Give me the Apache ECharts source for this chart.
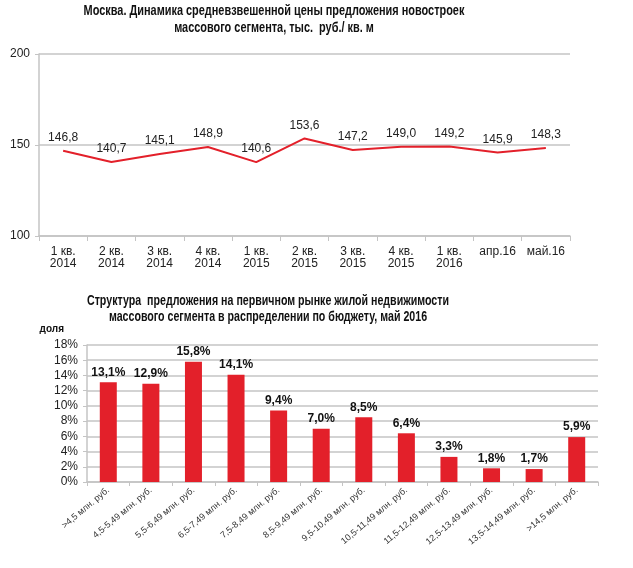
<!DOCTYPE html>
<html><head><meta charset="utf-8">
<script src="https://cdn.jsdelivr.net/npm/echarts@6/dist/echarts.min.js"></script>
<style>html,body{margin:0;padding:0;background:#fff}#c{width:633px;height:568px}</style>
</head><body><div id="c"></div>
<script>
const lineCategories = ['1 кв.\n2014','2 кв.\n2014','3 кв.\n2014','4 кв.\n2014','1 кв.\n2015','2 кв.\n2015','3 кв.\n2015','4 кв.\n2015','1 кв.\n2016','апр.16','май.16'];
const lineValues = [146.8,140.7,145.1,148.9,140.6,153.6,147.2,149.0,149.2,145.9,148.3];
const barCategories = ['>4,5 млн. руб.','4,5-5,49 млн. руб.','5,5-6,49 млн. руб.','6,5-7,49 млн. руб.','7,5-8,49 млн. руб.','8,5-9,49 млн. руб.','9,5-10,49 млн. руб.','10,5-11,49 млн. руб.','11,5-12,49 млн. руб.','12,5-13,49 млн. руб.','13,5-14,49 млн. руб.','>14,5 млн. руб.'];
const barValues = [13.1,12.9,15.8,14.1,9.4,7.0,8.5,6.4,3.3,1.8,1.7,5.9];
const title1 = 'Москва. Динамика средневзвешенной цены предложения новостроек\nмассового сегмента, тыс.  руб./ кв. м';
const title2 = 'Структура  предложения на первичном рынке жилой недвижимости\nмассового сегмента в распределении по бюджету, май 2016';

const FONT = '"Liberation Sans", Arial, sans-serif';
const RED = '#e3202a';
const GRID = '#c4c4c4';
const fmt = v => v.toFixed(1).replace('.', ',');

const chart = echarts.init(document.getElementById('c'), null, {renderer:'canvas'});
chart.setOption({
  animation:false,
  backgroundColor:'#fff',
  textStyle:{fontFamily:FONT},
  graphic:[
    {type:'text', x:274, y:3, scaleX:0.78,
     style:{text:title1, align:'center', verticalAlign:'top', fill:'#111',
            font:'bold 14px "Liberation Sans", Arial, sans-serif', lineHeight:17}},
    {type:'text', x:268, y:293, scaleX:0.76,
     style:{text:title2, align:'center', verticalAlign:'top', fill:'#111',
            font:'bold 14px "Liberation Sans", Arial, sans-serif', lineHeight:16}}
  ],
  grid:[
    {left:39, right:63, top:54, height:182},
    {left:87, right:35, top:345, height:137}
  ],
  xAxis:[
    {type:'category', gridIndex:0, data:lineCategories, boundaryGap:true,
     axisLine:{lineStyle:{color:GRID, width:1.5}},
     axisTick:{show:true, alignWithLabel:false, length:5, lineStyle:{color:GRID}},
     axisLabel:{color:'#222', fontSize:12, fontFamily:FONT, lineHeight:12, margin:10, interval:0}},
    {type:'category', gridIndex:1, data:barCategories, boundaryGap:true,
     axisLine:{lineStyle:{color:GRID, width:1.5}},
     axisTick:{show:true, length:4, lineStyle:{color:GRID}},
     axisLabel:{color:'#333', fontSize:9, fontFamily:FONT, rotate:40, margin:7, interval:0}}
  ],
  yAxis:[
    {type:'value', gridIndex:0, min:100, max:200, interval:50,
     axisLine:{show:true, lineStyle:{color:GRID, width:1.5}},
     axisTick:{show:true, length:4, lineStyle:{color:GRID}},
     splitLine:{lineStyle:{color:GRID, width:1.5}},
     axisLabel:{color:'#222', fontSize:12, fontFamily:FONT, margin:9}},
    {type:'value', gridIndex:1, min:0, max:18, interval:2,
     name:'доля', nameLocation:'end', nameGap:11,
     nameTextStyle:{fontFamily:FONT, fontWeight:'bold', fontSize:10, color:'#111', align:'right', padding:[0,23,0,0]},
     axisLine:{show:true, lineStyle:{color:GRID, width:1.5}},
     axisTick:{show:true, length:4, lineStyle:{color:GRID}},
     splitLine:{lineStyle:{color:GRID, width:1.5}},
     axisLabel:{color:'#222', fontSize:12, fontFamily:FONT, margin:9, formatter:'{value}%'}}
  ],
  series:[
    {type:'line', xAxisIndex:0, yAxisIndex:0, data:lineValues, symbol:'circle', symbolSize:0, showSymbol:true,
     lineStyle:{color:RED, width:2}, itemStyle:{color:RED},
     label:{show:true, position:'top', distance:7, color:'#222', fontSize:12, fontFamily:FONT,
            formatter:p=>fmt(p.value)}},
    {type:'bar', xAxisIndex:1, yAxisIndex:1, data:barValues, barWidth:17,
     itemStyle:{color:RED},
     label:{show:true, position:'top', distance:4, color:'#111', fontSize:12, fontWeight:'bold', fontFamily:FONT,
            formatter:p=>fmt(p.value)+'%'}}
  ]
});
</script></body></html>
